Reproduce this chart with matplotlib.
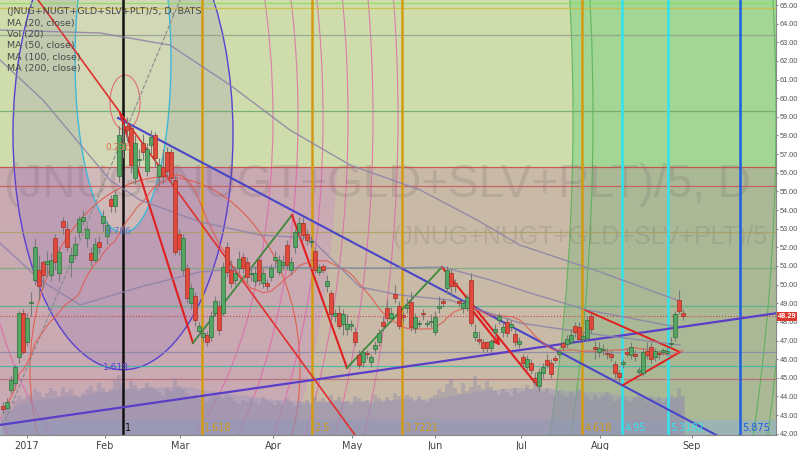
import numpy as np
import pandas as pd
import matplotlib
matplotlib.use('Agg')
import matplotlib.pyplot as plt
from matplotlib.patches import Ellipse, Rectangle

# daily bars (Dec 2016 - Aug 30 2017)
opens = [43.5, 43.4, 44.35, 44.7, 46.1, 48.5, 46.9, 49.0, 50.25, 50.8,
         51.2, 51.1, 50.5, 52.5, 50.6, 53.4, 53.0, 51.2, 51.6, 52.8,
         53.4, 52.5, 51.7, 51.3, 52.3, 53.3, 52.6, 54.6, 54.2, 55.8,
         57.2, 58.5, 58.4, 55.7, 56.7, 57.6, 56.1, 57.5, 58.0, 55.8,
         56.3, 57.1, 57.1, 55.6, 52.7, 50.8, 50.9, 49.0, 49.4, 47.5,
         47.2, 47.3, 47.2, 48.5, 48.85, 48.5, 52.0, 50.8, 50.25, 50.9,
         51.5, 51.2, 50.55, 50.2, 51.3, 50.1, 50.1, 50.4, 51.3, 50.7,
         51.05, 52.1, 50.8, 52.0, 52.8, 53.3, 52.7, 52.3, 51.8, 50.7,
         51.0, 49.9, 49.55, 48.3, 48.5, 47.9, 47.6, 47.8, 47.45, 46.2,
         45.85, 46.35, 45.85, 46.55, 46.9, 48.0, 48.75, 48.2, 49.5, 48.85,
         48.35, 48.75, 49.05, 47.65, 47.9, 48.5, 47.9, 48.0, 47.45, 48.75,
         49.1, 49.8, 50.6, 50.1, 49.1, 48.75, 48.75, 50.25, 47.2, 47.1,
         46.9, 46.9, 46.6, 47.45, 48.1, 47.45, 48.0, 47.7, 47.35, 46.8,
         46.1, 45.6, 45.8, 45.0, 44.55, 45.25, 45.95, 45.8, 46.05, 46.3,
         46.85, 46.8, 46.9, 47.8, 47.7, 47.1, 47.15, 48.3, 46.65, 46.4,
         46.5, 46.35, 46.3, 45.75, 45.25, 45.75, 46.4, 46.2, 46.25, 45.3,
         45.25, 46.45, 46.65, 46.1, 46.35, 46.4, 46.35, 46.8, 47.2, 49.2,
         48.5]
highs = [43.7, 43.9, 45.1, 45.7, 48.6, 48.7, 48.5, 49.6, 52.5, 51.6,
         51.3, 51.8, 51.7, 52.7, 52.0, 53.6, 53.4, 52.0, 52.6, 53.7,
         54.0, 53.2, 52.0, 52.5, 52.6, 54.0, 53.4, 54.8, 55.0, 58.5,
         58.6, 59.0, 58.6, 58.0, 57.3, 58.1, 57.6, 58.3, 58.2, 56.8,
         57.3, 57.4, 57.3, 55.8, 53.0, 52.7, 51.1, 50.1, 49.6, 48.0,
         47.6, 47.5, 48.6, 49.4, 49.2, 51.2, 52.3, 51.3, 51.0, 51.8,
         51.7, 51.5, 51.0, 51.0, 51.5, 50.9, 50.3, 51.1, 51.8, 51.6,
         51.6, 52.4, 51.5, 53.0, 53.6, 53.6, 53.0, 52.6, 52.0, 51.1,
         51.1, 50.5, 49.7, 48.7, 48.9, 48.7, 48.4, 48.1, 47.7, 46.5,
         46.6, 46.5, 46.3, 47.0, 47.6, 48.3, 49.2, 48.8, 50.0, 49.1,
         48.6, 49.3, 49.6, 48.5, 48.1, 48.7, 48.1, 48.4, 48.6, 49.4,
         49.3, 51.0, 50.8, 50.3, 49.3, 49.2, 49.5, 50.6, 47.9, 47.5,
         47.1, 47.0, 47.1, 47.9, 48.5, 48.0, 48.2, 48.1, 47.6, 47.2,
         46.3, 46.2, 46.0, 45.3, 45.5, 45.8, 46.3, 46.0, 46.2, 46.6,
         47.0, 47.3, 47.6, 48.0, 48.0, 47.4, 48.3, 48.5, 47.0, 46.9,
         46.8, 46.6, 46.5, 45.9, 45.4, 46.0, 46.6, 46.9, 46.5, 45.6,
         46.6, 46.9, 46.9, 46.6, 46.5, 46.6, 46.6, 47.2, 48.6, 49.7,
         48.7]
lows = [43.1, 43.3, 44.2, 44.5, 45.8, 46.3, 46.7, 48.3, 50.0, 49.2,
        49.8, 50.4, 50.2, 50.8, 50.2, 52.7, 51.8, 50.4, 51.4, 52.5,
        53.2, 52.0, 51.0, 51.2, 51.7, 52.9, 52.2, 53.9, 53.9, 55.5,
        56.8, 57.7, 56.0, 55.4, 56.3, 56.7, 55.8, 57.0, 56.3, 55.3,
        55.4, 55.7, 55.4, 51.6, 51.6, 50.5, 49.0, 48.7, 47.8, 47.3,
        46.9, 46.7, 47.0, 48.3, 47.3, 48.3, 50.4, 49.8, 50.0, 50.6,
        50.6, 50.1, 50.2, 49.9, 50.0, 49.8, 49.7, 50.2, 51.0, 50.5,
        50.8, 50.8, 50.5, 51.7, 52.6, 52.4, 52.1, 52.0, 50.6, 50.5,
        50.6, 49.6, 48.1, 48.0, 47.6, 47.3, 47.3, 47.5, 46.7, 45.5,
        45.6, 46.0, 45.6, 46.3, 46.7, 47.6, 48.0, 48.0, 49.0, 47.6,
        48.0, 48.5, 47.5, 47.4, 47.7, 48.1, 47.7, 47.7, 47.3, 48.5,
        48.8, 49.5, 49.4, 49.6, 48.8, 48.5, 48.6, 47.8, 47.0, 46.8,
        46.4, 46.4, 46.4, 47.2, 47.9, 47.2, 47.2, 47.5, 46.7, 46.6,
        45.6, 45.4, 45.2, 44.6, 44.3, 45.0, 45.5, 45.0, 45.8, 46.1,
        46.5, 46.6, 46.8, 47.2, 47.0, 46.9, 47.0, 47.4, 46.0, 46.1,
        46.2, 46.0, 45.9, 45.0, 44.8, 45.5, 46.1, 46.0, 45.9, 45.1,
        45.1, 46.0, 45.8, 45.9, 46.0, 46.2, 46.2, 46.6, 47.0, 48.4,
        48.1]
closes = [43.35, 43.7, 44.9, 45.6, 48.5, 46.4, 48.2, 49.05, 52.0, 49.9,
          50.5, 51.25, 51.3, 51.2, 51.75, 53.1, 52.0, 51.6, 52.2, 53.5,
          53.6, 53.0, 51.3, 52.2, 52.0, 53.7, 53.2, 54.2, 54.8, 58.0,
          57.6, 58.3, 56.4, 57.6, 56.75, 57.1, 57.3, 57.9, 56.8, 56.4,
          55.8, 56.1, 55.7, 51.75, 51.9, 52.5, 49.3, 49.8, 48.1, 47.8,
          47.4, 46.9, 48.3, 49.1, 47.55, 50.95, 50.7, 50.1, 50.6, 51.4,
          50.9, 50.4, 50.6, 50.6, 50.25, 50.6, 49.9, 50.9, 51.5, 51.3,
          51.2, 51.05, 51.2, 52.8, 53.3, 52.65, 52.4, 52.35, 50.8, 50.95,
          50.8, 50.2, 48.4, 48.5, 47.8, 48.4, 47.9, 47.85, 46.9, 45.7,
          46.4, 46.25, 46.1, 46.75, 47.4, 47.8, 48.2, 48.5, 49.3, 47.8,
          48.25, 48.9, 47.7, 48.25, 47.95, 48.4, 47.95, 48.05, 48.25, 48.85,
          49.0, 50.8, 49.95, 49.9, 49.0, 49.0, 49.35, 47.95, 47.45, 47.0,
          46.6, 46.6, 47.0, 47.6, 48.3, 47.7, 47.4, 47.9, 46.9, 47.0,
          45.8, 46.0, 45.4, 44.8, 45.3, 45.6, 45.7, 45.2, 45.95, 46.4,
          46.65, 47.1, 47.3, 47.45, 47.1, 47.25, 48.1, 47.6, 46.55, 46.6,
          46.55, 46.25, 46.1, 45.25, 45.05, 45.85, 46.3, 46.65, 46.15, 45.4,
          46.4, 46.2, 46.0, 46.45, 46.25, 46.5, 46.45, 46.85, 48.4, 48.6,
          48.29]
volume = [40, 45, 38, 52, 60, 55, 58, 62, 70, 66, 58, 64, 72, 68, 60, 74, 66, 70, 62, 58,
          64, 70, 75, 68, 80, 72, 66, 70, 84, 92, 78, 70, 82, 76, 68, 72, 80, 74, 70, 66,
          60, 72, 68, 88, 75, 70, 64, 58, 62, 55, 60, 52, 58, 64, 60, 56, 62, 58, 52, 48,
          54, 50, 56, 52, 48, 58, 54, 50, 46, 52, 48, 56, 50, 44, 52, 48, 54, 46, 58, 52,
          56, 50, 62, 54, 58, 50, 52, 46, 60, 56, 50, 54, 48, 62, 56, 50, 58, 52, 64, 60,
          56, 62, 58, 52, 60, 54, 50, 58, 62, 70, 66, 78, 86, 72, 64, 80, 68, 74, 90, 76,
          70, 82, 74, 68, 62, 70, 66, 60, 72, 64, 68, 76, 70, 84, 78, 66, 72, 64, 60, 68,
          62, 58, 66, 60, 70, 64, 58, 54, 62, 56, 60, 66, 58, 52, 56, 60, 54, 50, 58, 62,
          56, 52, 60, 54, 58, 50, 56, 62, 58, 72, 60]

# longer moving averages (need history before the window), read as points
ma50_x = [-0.75, 10, 26.75, 34.25, 49.25, 64.25, 76.75, 89.25, 99.25, 111.75, 129.25, 149.25, 169.25]
ma50_y = [62.05, 59.9, 55.61, 54.54, 53.36, 52.66, 52.5, 49.87, 49.44, 49.17, 47.94, 47.3, 46.76]
ma100_x = [-0.75, 9.25, 19.25, 34.25, 49.25, 64.25, 81.75, 96.75, 110, 121.75, 131.75, 146, 168.5]
ma100_y = [52.23, 50.25, 48.91, 49.87, 50.68, 50.94, 50.89, 50.89, 50.94, 50.25, 49.55, 48.64, 47.72]
ma200_x = [-0.75, 24.25, 41.75, 56.75, 71.75, 86.75, 104.25, 118.5, 129.25, 149.25, 168.5]
ma200_y = [63.66, 63.5, 62.85, 60.71, 58.29, 56.42, 55.08, 53.47, 52.12, 50.68, 49.17]

month_pos = [6, 25.5, 44.25, 67.5, 87.25, 108, 129.5, 149.25, 172.25]
month_lbl = ['2017', 'Feb', 'Mar', 'Apr', 'May', 'Jun', 'Jul', 'Aug', 'Sep']

# fib time zones
fib_pos = [30, 49.75, 77.25, 99.75, 144.75, 154.75, 166.25, 184.25]
fib_lbl = ['1', '1.618', '2.5', '3.7221', '4.618', '4.95', '5.3182', '5.875']
fib_col = ['#111111', '#d39a12', '#d39a12', '#d39a12', '#d39a12', '#2fe3ee', '#2fe3ee', '#1e5ee0']

# horizontal levels
lvl_price = [65.1, 64.85, 63.4, 59.3, 56.3, 55.3, 52.8, 50.9, 48.85, 46.4, 45.63, 44.94]
lvl_color = ['#86df5a', '#c8c040', '#8fa08c', '#6aa86a', '#c84848', '#c85858', '#aaa060',
             '#78aa78', '#55b088', '#8a88a8', '#3fb8a8', '#b86878']

last = 48.29
n = len(closes)
x = np.arange(n)
o = np.array(opens); c = np.array(closes)
ma20 = pd.Series(closes).rolling(20, min_periods=1).mean()
volma = pd.Series(volume).rolling(20, min_periods=1).mean()

fig = plt.figure(figsize=(8, 4.5), dpi=100)
ax = fig.add_axes([0, 15 / 450, 776 / 800, 435 / 450])
ax.set_xlim(-0.75, 193.25)
ax.set_ylim(41.93, 65.27)

# --- background made by fib circles ---
cx, cy = 30, 58.94
ax.set_facecolor('#aab896')
ax.add_patch(Ellipse((cx, cy), 225, 107.3, fc='#c8baa6', ec='none', zorder=0.1))
ax.add_patch(Ellipse((cx, cy), 107.5, 55.4, fc='#c9a9b2', ec='none', zorder=0.2))
upper = Rectangle((-5, 56.3), 210, 12, fc='#a3d595', ec='none', zorder=0.3)
ax.add_patch(upper)
top_in = Ellipse((cx, cy), 225, 107.3, fc='#cfdcab', ec='none', zorder=0.4)
ax.add_patch(top_in)
top_in.set_clip_path(upper)
ax.axhspan(41.93, 42.75, color='#8fb2c8', alpha=0.55, zorder=0.5, lw=0)

# purple / cyan / red circles around the Feb peak
ax.add_patch(Ellipse((30, 58.08), 55, 25.3, fc='#6a4ec8', alpha=0.13, ec='none', zorder=0.6))
ax.add_patch(Ellipse((30, 58.08), 55, 25.3, fc='none', ec='#5a40d0', lw=1, zorder=1))
ax.add_patch(Ellipse((30, 62.05), 24, 18.56, fc='#f4f2c4', alpha=0.35, ec='none', zorder=0.6))
ax.add_patch(Ellipse((30, 62.05), 24, 18.56, fc='none', ec='#3fb8d8', lw=1, zorder=1))
ax.add_patch(Ellipse((30.5, 59.77), 7.5, 2.95, fc='none', ec='#e07070', lw=0.8, zorder=1))
ax.add_patch(Ellipse((40.5, 45.42), 67.5, 20.7, fc='none', ec='#e06050', lw=0.8, zorder=1))
for w, h in [(75, 38.6), (87.5, 45.1), (100, 51.5), (112.5, 57.9), (125, 64.4), (137.5, 70.8)]:
    ax.add_patch(Ellipse((cx, cy), w, h, fc='none', ec='#e060a8', lw=0.8, alpha=0.75, zorder=1))
for w, h in [(225, 107.3), (235, 112.7), (326.5, 130.4), (332.5, 139.5)]:
    ax.add_patch(Ellipse((cx, cy), w, h, fc='none', ec='#4fb04f', lw=0.8, alpha=0.8, zorder=1))

# watermark
ax.text(0.005, 1 - 185 / 435, '(JNUG+NUGT+GLD+SLV+PLT)/5, D', transform=ax.transAxes,
        fontsize=33, family='Liberation Sans', color='#6b5a60', alpha=0.18,
        va='center', ha='left', zorder=1.1)
ax.text(393 / 776, 1 - 237 / 435, '(JNUG+NUGT+GLD+SLV+PLT)/5', transform=ax.transAxes,
        fontsize=18, family='Liberation Sans', color='#6b5a60', alpha=0.18,
        va='center', ha='left', zorder=1.1)

# horizontal levels
for p, col in zip(lvl_price, lvl_color):
    ax.axhline(p, color=col, lw=0.9, alpha=0.85, zorder=1.2)
ax.axhline(last, color='#d04040', lw=0.8, ls=':', zorder=1.2)

# volume
axv = ax.inset_axes([0, 0, 1, 0.15], sharex=ax)
axv.set_zorder(1.5)
axv.patch.set_alpha(0)
axv.axis('off')
axv.set_ylim(0, 100)
axv.fill_between(x, volma, color='#9d98bb', alpha=0.45, lw=0)
axv.bar(x, volume, width=0.8, color='#8f88a8', alpha=0.4)

# fib time zone lines
for p, lab, col in zip(fib_pos, fib_lbl, fib_col):
    ax.axvline(p, color=col, lw=1.8, zorder=1.8)
    ax.text(p + 0.6, 42.3, lab, color=col, fontsize=7, va='center', ha='left', zorder=6)

# trend lines
ax.plot([-0.75, 193.25], [42.47, 48.46], color='#5a3ec8', lw=1.6, zorder=2)
ax.plot([28.75, 179.25], [58.94, 41.82], color='#4a46c8', lw=1.5, zorder=2)
ax.plot([0.5, 44.25], [42.7, 65.27], color='#8a8a8a', lw=0.8, ls='--', zorder=2)
ax.plot([8.75, 88], [65.27, 41.93], color='#e03030', lw=1.2, zorder=2)
ax.plot([29.25, 47.5], [59.2, 46.87], color='#e02020', lw=1.5, zorder=2)
ax.plot([47.5, 72.25], [46.87, 53.73], color='#3d8a3d', lw=1.3, zorder=2)
ax.plot([72.25, 86], [53.73, 45.53], color='#e02020', lw=1.5, zorder=2)
ax.plot([86, 109.75], [45.53, 50.94], color='#3d8a3d', lw=1.3, zorder=2)
ax.plot([109.75, 133.5], [50.94, 44.61], color='#e02020', lw=1.5, zorder=2)
ax.annotate('', xy=(124.75, 46.6), xytext=(117.25, 48.64),
            arrowprops=dict(arrowstyle='->', color='#e02020', lw=1.6), zorder=2)
ax.plot([145.5, 169.25, 155], [48.64, 46.38, 44.61], color='#e02020', lw=1.4, zorder=2)

# moving averages
ax.plot(x, ma20, color='#e05a50', lw=0.9, alpha=0.8, zorder=2.2)
ax.plot(ma50_x, ma50_y, color='#8c82a8', lw=1, alpha=0.85, zorder=2.2)
ax.plot(ma100_x, ma100_y, color='#8c82a8', lw=1, alpha=0.85, zorder=2.2)
ax.plot(ma200_x, ma200_y, color='#8c82a8', lw=1, alpha=0.85, zorder=2.2)

# candles
up = c >= o
col = np.where(up, '#55a565', '#e04a3c')
edge = np.where(up, '#2f6e3c', '#a52e24')
ax.vlines(x, lows, highs, color='#7a7a7a', lw=0.8, zorder=3)
ax.bar(x, np.maximum(np.abs(c - o), 0.06), bottom=np.minimum(o, c), width=0.8,
       color=col, edgecolor=edge, lw=0.5, zorder=4)

# fib circle labels
ax.text(25.5, 57.2, '0.236', color='#e07050', fontsize=6.5, zorder=6)
ax.text(25.5, 52.7, '0.786', color='#5a70c8', fontsize=6.5, zorder=6)
ax.text(25.0, 45.4, '1.618', color='#5a40d0', fontsize=6.5, zorder=6)

# header
hdr = ['(JNUG+NUGT+GLD+SLV+PLT)/5, D, BATS', 'MA (20, close)', 'Vol (20)',
       'MA (50, close)', 'MA (100, close)', 'MA (200, close)']
for k, t in enumerate(hdr):
    ax.text(7 / 776, 1 - (12 + 11.3 * k) / 435, t, transform=ax.transAxes,
            fontsize=6.8, color='#4a4a4a', va='center', ha='left', zorder=7)

# axes
ax.yaxis.tick_right()
ax.set_yticks(np.arange(42, 66))
ax.set_yticklabels(['%.2f' % v for v in np.arange(42, 66)], fontsize=5.3,
                   color='#555555', family='Liberation Sans')
ax.set_xticks(month_pos)
ax.set_xticklabels(month_lbl, fontsize=7, color='#444444')
ax.tick_params(axis='x', length=2.5, color='#888888', pad=2)
ax.tick_params(axis='y', length=1.5, color='#888888', pad=1)
for s in ['top', 'left']:
    ax.spines[s].set_visible(False)
for s in ['right', 'bottom']:
    ax.spines[s].set_color('#888888')
ax.text(1.002, last, '%.2f' % last, transform=ax.get_yaxis_transform(), fontsize=5.3,
        family='Liberation Sans', color='white', fontweight='bold', va='center', ha='left',
        zorder=8, bbox=dict(boxstyle='square,pad=0.12', fc='#d93a2f', ec='none'))

fig.savefig('out.png', dpi=100, facecolor='white')
